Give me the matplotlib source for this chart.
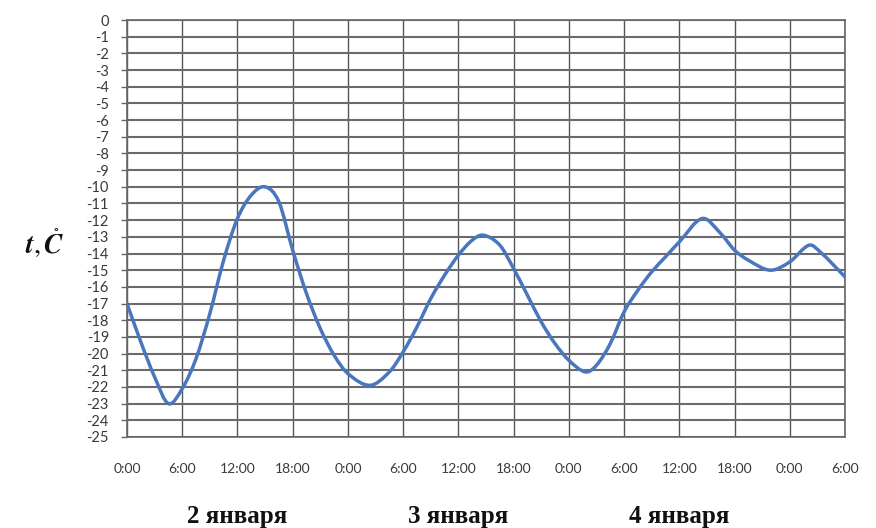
import numpy as np
import matplotlib
matplotlib.use('Agg')
from matplotlib import pyplot as plt
from matplotlib.path import Path
from matplotlib.patches import PathPatch
import matplotlib.transforms as mtransforms

plt.rcParams['mathtext.fontset'] = 'stix'

# hours since 0:00, 2 января
hours = [0, 1.5, 3, 4.5, 6, 7.5, 9, 10.5, 12, 13.5,
         15, 16.5, 18, 19.5, 21, 22.5, 24,
         26.4, 28.5, 30, 31.5, 33, 34.5, 36, 37.5, 38.7,
         40.5, 42, 43.5, 45, 46.5, 48,
         49.8, 51, 52.5, 54, 55.5, 57, 58.5, 60,
         62.5, 64.5, 66, 67.5, 69.9,
         72, 74.1, 75.3, 78]
temps = [-17.0, -19.3, -21.4, -23.0, -22.1, -20.3, -17.6, -14.4, -11.9, -10.5,
         -10.0, -10.9, -13.8, -16.4, -18.5, -20.1, -21.2,
         -21.9, -21.1, -19.9, -18.4, -16.7, -15.3, -14.1, -13.2, -12.9,
         -13.5, -14.9, -16.5, -18.1, -19.4, -20.4,
         -21.1, -20.7, -19.4, -17.5, -16.2, -15.1, -14.2, -13.3,
         -11.9, -12.8, -13.8, -14.4, -15.0,
         -14.5, -13.5, -13.9, -15.4]

time_labels = ['0:00', '6:00', '12:00', '18:00'] * 3 + ['0:00', '6:00']
day_labels = ['2 января', '3 января', '4 января']
y_values = list(range(0, -26, -1))


def smooth_path(x, y):
    # Excel-like smoothed line: cubic Bezier segments through the points
    x = np.asarray(x, float)
    y = np.asarray(y, float)
    n = len(x)
    m = np.zeros(n)
    m[0] = (y[1] - y[0]) / (x[1] - x[0])
    m[-1] = (y[-1] - y[-2]) / (x[-1] - x[-2])
    for i in range(1, n - 1):
        m[i] = (y[i + 1] - y[i - 1]) / (x[i + 1] - x[i - 1])
    verts = [(x[0], y[0])]
    codes = [Path.MOVETO]
    for i in range(n - 1):
        dx = x[i + 1] - x[i]
        verts += [(x[i] + dx / 3, y[i] + m[i] * dx / 3),
                  (x[i + 1] - dx / 3, y[i + 1] - m[i + 1] * dx / 3),
                  (x[i + 1], y[i + 1])]
        codes += [Path.CURVE4] * 3
    return Path(verts, codes)


fig = plt.figure(figsize=(8.76, 5.28), dpi=100)
ax = fig.add_axes([127 / 876, 1 - 437 / 528, (845 - 127) / 876, (437 - 20) / 528])

ax.set_xlim(0, 78)
ax.set_ylim(-25, 0)

ax.set_yticks(y_values)
ax.set_yticklabels([str(v) for v in y_values], family='Lato', fontsize=10.5, color='#3a3a3a')
ax.tick_params(axis='y', direction='out', length=4, width=1, color='#666666', pad=9)

ax.set_xticks(np.arange(0, 79, 6))
ax.set_xticklabels(time_labels, family='Lato', fontsize=10, color='#3a3a3a')
ax.tick_params(axis='x', which='major', length=0, pad=19)
ax.set_xticks([24, 48, 72], minor=True)
ax.tick_params(axis='x', which='minor', direction='out', length=13, width=1, color='#777777')

ax.grid(axis='y', color='#6a6a6a', linewidth=1.5)
ax.grid(axis='x', which='major', color='#555555', linewidth=1.0)
for s in ax.spines.values():
    s.set_color('#666666')
    s.set_linewidth(1.2)

patch = PathPatch(smooth_path(hours, temps), facecolor='none', edgecolor='#4a76be',
                  linewidth=2.5, capstyle='round', joinstyle='round', zorder=3)
ax.add_patch(patch)

trans = mtransforms.blended_transform_factory(ax.transData, fig.transFigure)
for i, d in enumerate(day_labels):
    ax.text(12 + 24 * i, 1 - 516 / 528, d, transform=trans, ha='center', va='center',
            family='Liberation Serif', fontweight='bold', fontsize=18, color='#111111')

# axis caption: t,°C with the degree sign above the C
fig.text(25 / 876, 1 - 243 / 528, r'$\mathbfit{t},\mathring{\mathbfit{C}}$',
         fontsize=20, color='#111111', ha='left', va='center')

fig.savefig('out.png', dpi=100, facecolor='white')
